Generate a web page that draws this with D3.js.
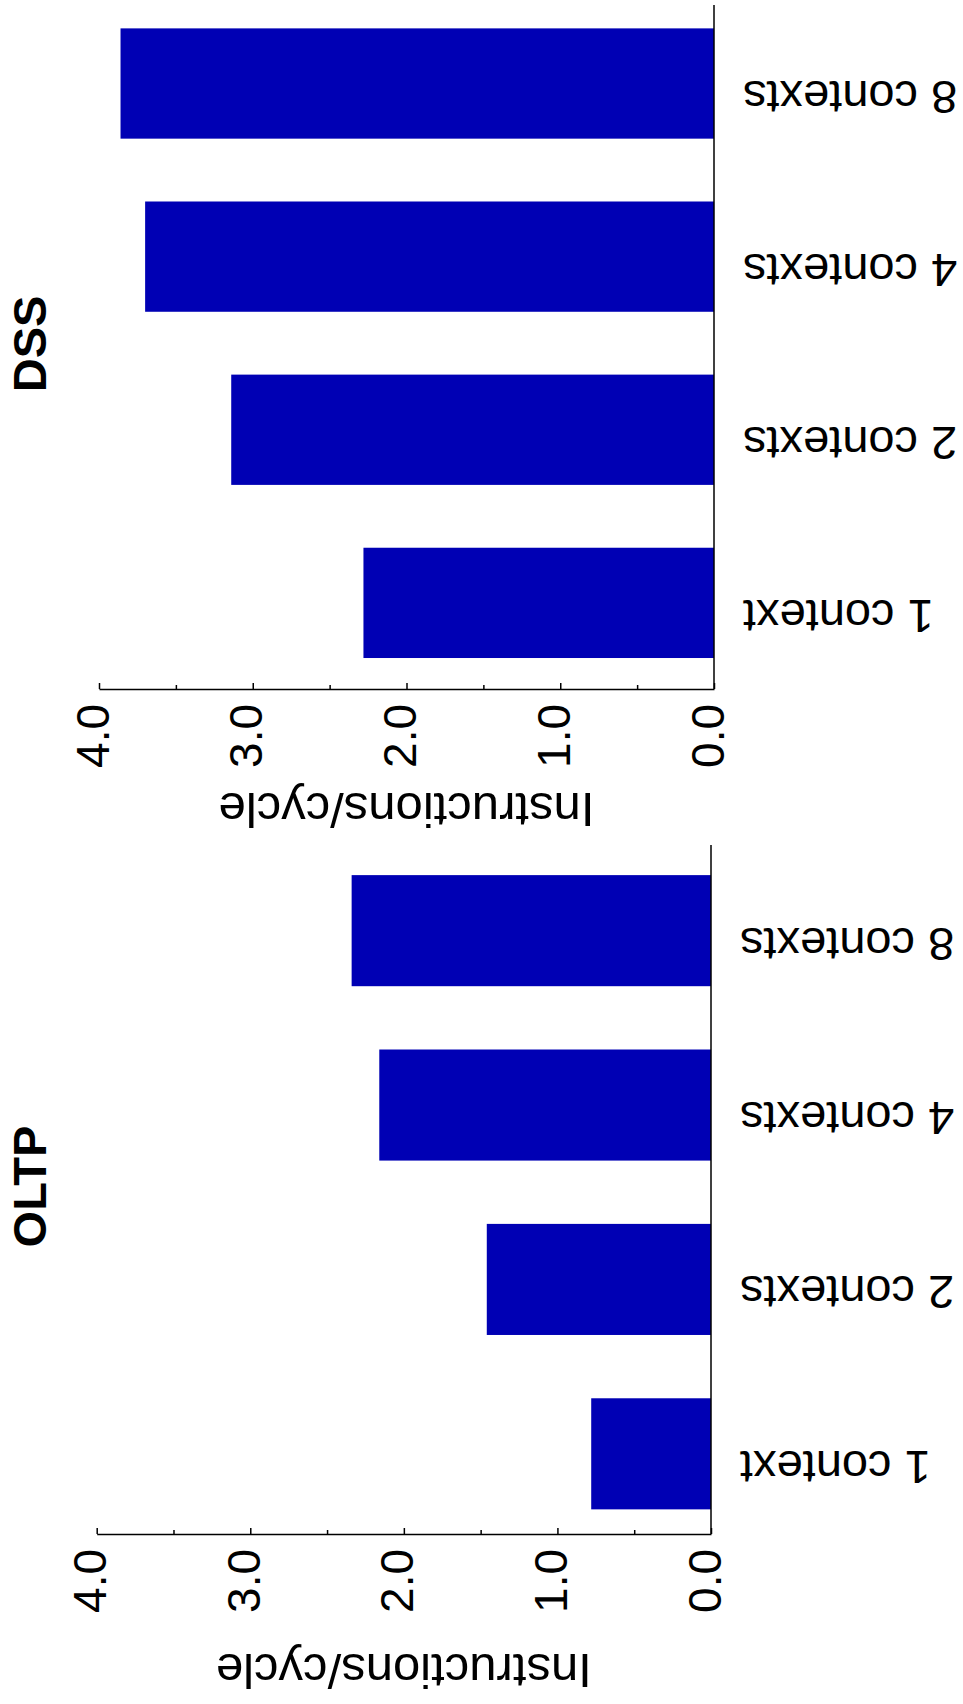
<!DOCTYPE html>
<html>
<head>
<meta charset="utf-8">
<script src="https://cdn.jsdelivr.net/npm/d3@7"></script>
<style>
  html, body { margin: 0; padding: 0; background: #fff; }
  svg text { font-family: "Liberation Sans", Arial, Helvetica, sans-serif; }
</style>
</head>
<body>
<script>
// values (instructions per cycle)
const categories = ["1 context", "2 contexts", "4 contexts", "8 contexts"];
const oltpIpc = [0.78, 1.46, 2.16, 2.34];
const dssIpc = [2.28, 3.14, 3.70, 3.86];
const majorTicks = [0, 1, 2, 3, 4];
const minorTicks = [0.5, 1.5, 2.5, 3.5];
const axisTitle = "Instructions/cycle";

const W = 963, H = 1704;
const barColor = "#0000b4";

// the figure is turned on its side: value axis runs right->left, categories bottom->top
const panels = [
  { title: "DSS", values: dssIpc, top: 5, bottom: 689, x0: 714, x4: 99, align: 0.43, titleGap: 104 },
  { title: "OLTP", values: oltpIpc, top: 845, bottom: 1534, x0: 711, x4: 96.7, align: 0.55, titleGap: 120 }
];

const svg = d3.select("body").append("svg")
  .attr("width", W)
  .attr("height", H);

panels.forEach(p => {
  const g = svg.append("g");

  const x = d3.scaleLinear()
    .domain([0, 4])
    .range([p.x0, p.x4]);

  const y = d3.scaleBand()
    .domain(categories.slice().reverse())
    .range([p.top, p.bottom])
    .paddingInner(0.363)
    .paddingOuter(0.157)
    .align(p.align);

  // bars
  g.selectAll("rect.bar")
    .data(categories.map((c, i) => ({ cat: c, v: p.values[i] })))
    .enter().append("rect")
    .attr("class", "bar")
    .attr("x", d => x(d.v))
    .attr("y", d => y(d.cat))
    .attr("width", d => x(0) - x(d.v))
    .attr("height", y.bandwidth())
    .attr("fill", barColor);

  // category baseline
  g.append("line")
    .attr("x1", x(0)).attr("x2", x(0))
    .attr("y1", p.top).attr("y2", p.bottom)
    .attr("stroke", "#000")
    .attr("stroke-width", 1.5);

  // category labels (upside down)
  g.selectAll("text.cat")
    .data(categories)
    .enter().append("text")
    .attr("class", "cat")
    .attr("transform", d => "translate(" + (x(0) + 29) + "," + (y(d) + y.bandwidth() / 2 - 3) + ") rotate(180)")
    .attr("text-anchor", "end")
    .attr("font-size", 47)
    .attr("fill", "#000")
    .text(d => d);

  // value axis
  const ax = g.append("g")
    .attr("transform", "translate(0," + p.bottom + ")")
    .call(d3.axisBottom(x)
      .tickValues(majorTicks)
      .tickSizeInner(-6)
      .tickSizeOuter(0)
      .tickFormat(d3.format(".1f")));

  ax.select(".domain").attr("stroke-width", 1.5);
  ax.selectAll(".tick line").attr("stroke-width", 1.5);
  ax.selectAll(".tick text")
    .attr("transform", "rotate(-90)")
    .attr("x", -15)
    .attr("y", 9)
    .attr("dy", null)
    .attr("text-anchor", "end")
    .attr("font-size", 46)
    .attr("font-family", "Liberation Sans, Arial, sans-serif")
    .attr("fill", "#000");

  const minor = g.append("g")
    .attr("transform", "translate(0," + p.bottom + ")")
    .call(d3.axisBottom(x)
      .tickValues(minorTicks)
      .tickSizeInner(-4)
      .tickSizeOuter(0)
      .tickFormat(""));
  minor.select(".domain").remove();
  minor.selectAll(".tick line").attr("stroke-width", 1.5);

  // axis title (upside down)
  g.append("text")
    .attr("transform", "translate(" + ((x(0) + x(4)) / 2) + "," + (p.bottom + p.titleGap) + ") rotate(180)")
    .attr("text-anchor", "middle")
    .attr("font-size", 49)
    .attr("fill", "#000")
    .text(axisTitle);

  // panel title (reads bottom to top)
  g.append("text")
    .attr("transform", "translate(46," + ((p.top + p.bottom) / 2 - 3) + ") rotate(-90)")
    .attr("text-anchor", "middle")
    .attr("font-size", 47)
    .attr("font-weight", "bold")
    .attr("fill", "#000")
    .text(p.title);
});
</script>
</body>
</html>
